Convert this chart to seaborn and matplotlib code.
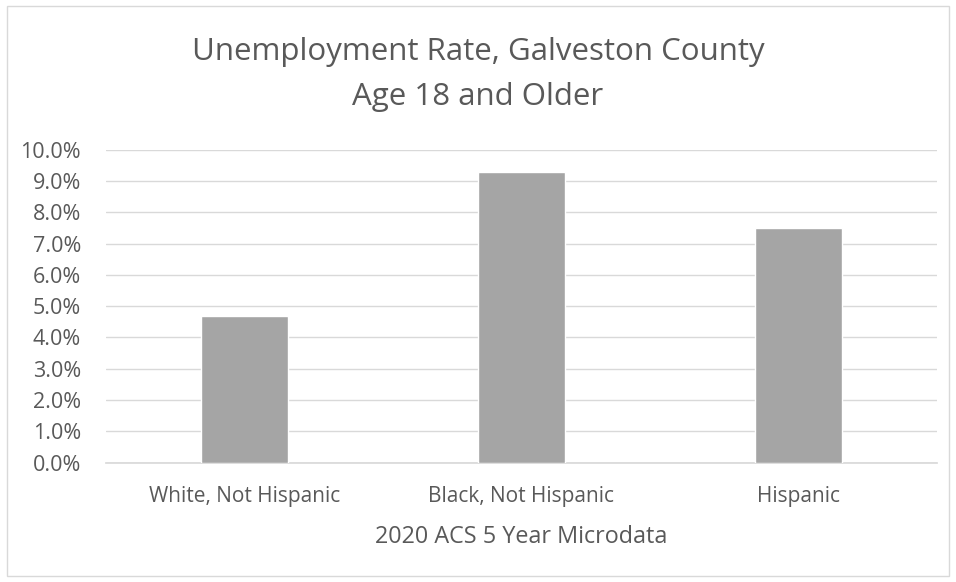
import matplotlib
matplotlib.use("Agg")
import matplotlib.pyplot as plt
import seaborn as sns
import pandas as pd
from matplotlib.ticker import FuncFormatter, MultipleLocator
from matplotlib.patches import Rectangle

categories = ["White, Not Hispanic", "Black, Not Hispanic", "Hispanic"]
rates = [0.0469, 0.0927, 0.0749]
title_lines = ["Unemployment Rate, Galveston County", "Age 18 and Older"]
x_title = "2020 ACS 5 Year Microdata"

df = pd.DataFrame({"group": categories, "rate": rates})

sns.set_theme(style="white")
plt.rcParams["font.family"] = ["Open Sans", "DejaVu Sans"]

fig = plt.figure(figsize=(9.56, 5.82), dpi=100)
ax = fig.add_axes([0.111, 0.205, 0.869, 0.538])

sns.barplot(data=df, x="group", y="rate", color="#A5A5A5", width=0.314,
            saturation=1, ax=ax, zorder=3)

ax.set_ylim(0, 0.10)
ax.yaxis.set_major_locator(MultipleLocator(0.01))
ax.yaxis.set_major_formatter(FuncFormatter(lambda v, p: f"{v*100:.1f}%"))
ax.grid(axis="y", color="#D9D9D9", linewidth=1, zorder=0)
ax.set_axisbelow(True)
for s in ["top", "right", "left"]:
    ax.spines[s].set_visible(False)
ax.spines["bottom"].set_color("#D9D9D9")
ax.tick_params(axis="x", length=0, colors="#595959", labelsize=15, pad=17)
ax.tick_params(axis="y", length=0, colors="#595959", labelsize=15.5, pad=18)
ax.set_ylabel("")
ax.set_xlabel(x_title, fontsize=16.8, color="#595959", labelpad=13)

fig.text(0.5, 0.911, title_lines[0], ha="center", va="center", fontsize=22.5,
         color="#595959")
fig.text(0.5, 0.833, title_lines[1], ha="center", va="center", fontsize=22.5,
         color="#595959")

fig.patches.append(Rectangle((7/956, 6/582), 942/956, 570/582, transform=fig.transFigure,
                             fill=False, edgecolor="#D9D9D9", linewidth=1))

fig.savefig("out.png", dpi=100, facecolor="white")
